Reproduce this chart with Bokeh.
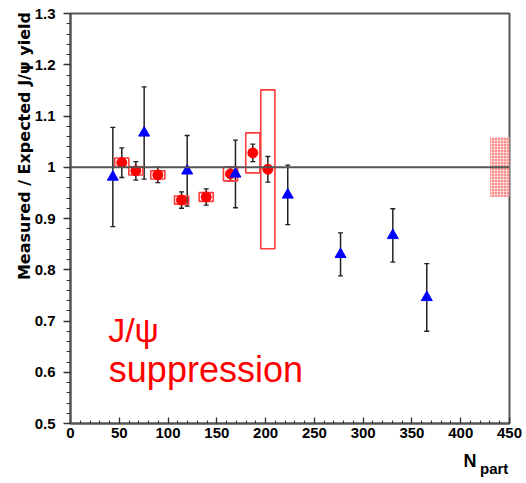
from bokeh.plotting import figure
from bokeh.models import (Range1d, FixedTicker, Whisker, TeeHead, ColumnDataSource,
                          Label, Span, LinearAxis)
from bokeh.embed import file_html
from bokeh.resources import INLINE

# ---- data ----
red_x = [52.6, 67.0, 89.5, 113.8, 139.1, 164.0, 186.9, 202.3]
red_y = [1.009, 0.993, 0.985, 0.936, 0.942, 0.987, 1.028, 0.996]
red_stat = [0.029, 0.018, 0.015, 0.016, 0.016, 0.014, 0.017, 0.025]
red_syst = [0.009, 0.008, 0.008, 0.008, 0.0085, 0.0135, 0.039, 0.155]
red_box_width = 14.5

blue_x = [43.4, 75.5, 119.6, 169.1, 222.7, 276.8, 330.4, 365.2]
blue_y = [0.981, 1.067, 0.993, 0.987, 0.946, 0.830, 0.867, 0.746]
blue_err = [0.097, 0.090, 0.069, 0.066, 0.058, 0.042, 0.052, 0.066]

global_unc_x = [430, 450]
global_unc = [0.058, 0.059]
reference_level = 1.0

x_ticks = [0, 50, 100, 150, 200, 250, 300, 350, 400, 450]
x_minor = list(range(0, 451, 10))
y_ticks = [0.5, 0.6, 0.7, 0.8, 0.9, 1.0, 1.1, 1.2, 1.3]
y_tick_labels = ["0.5", "0.6", "0.7", "0.8", "0.9", "1", "1.1", "1.2", "1.3"]
y_minor = [round(0.5 + 0.02 * i, 2) for i in range(41)]

y_title = "Measured / Expected J/\u03c8 yield"
x_title_main = "N"
x_title_sub = "part"
note_line1 = "J/\u03c8"
note_line2 = "suppression"

NBSP = "\u00a0"

# ---- figure ----
p = figure(width=526, height=483, output_backend="svg", toolbar_location=None,
           x_range=Range1d(0, 450), y_range=Range1d(0.5, 1.3))
p.min_border_left = 70
p.min_border_right = 17
p.min_border_top = 13
p.min_border_bottom = 60
p.xgrid.visible = False
p.ygrid.visible = False
p.outline_line_color = "#555555"
p.outline_line_width = 2
p.background_fill_color = "white"
p.border_fill_color = "white"

p.xaxis.ticker = FixedTicker(ticks=x_ticks, minor_ticks=x_minor)
p.yaxis.ticker = FixedTicker(ticks=y_ticks, minor_ticks=y_minor)
p.yaxis.major_label_overrides = {t: l for t, l in zip(y_ticks, y_tick_labels)}

for ax in (p.xaxis, p.yaxis):
    ax.axis_line_color = "#555555"
    ax.axis_line_width = 2
    ax.major_tick_line_color = "#333333"
    ax.minor_tick_line_color = "#333333"
    ax.major_tick_line_width = 1.3
    ax.minor_tick_line_width = 1.1
    ax.major_label_text_font = "Liberation Sans"
    ax.major_label_text_font_style = "bold"
    ax.major_label_text_font_size = "15px"
    ax.major_label_text_color = "black"
    ax.axis_label_text_color = "black"
    ax.axis_label_text_font_style = "bold"

p.xaxis.major_tick_in = 6
p.xaxis.major_tick_out = 0
p.xaxis.minor_tick_in = 3
p.xaxis.minor_tick_out = 0
p.xaxis.major_label_standoff = 4

p.yaxis.major_tick_in = 0
p.yaxis.major_tick_out = 7
p.yaxis.minor_tick_in = 0
p.yaxis.minor_tick_out = 4
p.yaxis.major_label_standoff = 8

# y title: centred by Bokeh, shifted to the top end with leading no-break spaces
p.yaxis.axis_label = NBSP * 26 + y_title
p.yaxis.axis_label_text_font = "DejaVu Sans"
p.yaxis.axis_label_text_font_size = "16px"
p.yaxis.axis_label_standoff = -2

# x title "N" with subscript "part" (second, bare axis carries the subscript)
p.xaxis.axis_label = NBSP * 72 + x_title_main
p.xaxis.axis_label_text_font = "Liberation Sans"
p.xaxis.axis_label_text_font_size = "18px"
p.xaxis.axis_label_standoff = 10

sub_axis = LinearAxis(ticker=FixedTicker(ticks=[]), axis_line_color=None,
                      major_tick_line_color=None, minor_tick_line_color=None,
                      major_tick_in=0, major_tick_out=0, minor_tick_in=0,
                      minor_tick_out=0, major_label_standoff=0,
                      axis_label=NBSP * 98 + x_title_sub,
                      axis_label_standoff=-14,
                      axis_label_text_font="Liberation Sans",
                      axis_label_text_font_style="bold",
                      axis_label_text_font_size="15px",
                      axis_label_text_color="black")
p.add_layout(sub_axis, "below")

# reference line at 1
p.add_layout(Span(location=reference_level, dimension="width", line_color="#555555",
                  line_width=2))

# global uncertainty (hatched box)
p.quad(left=[global_unc_x[0]], right=[global_unc_x[1]],
       bottom=[reference_level - global_unc[0]], top=[reference_level + global_unc[1]],
       fill_color="#ff8f8f", fill_alpha=1.0, line_color=None,
       hatch_pattern="cross", hatch_color="white", hatch_alpha=0.55,
       hatch_scale=3, hatch_weight=1)

# red systematic boxes
red_src = ColumnDataSource(dict(
    x=red_x, y=red_y,
    lo=[y - e for y, e in zip(red_y, red_stat)],
    hi=[y + e for y, e in zip(red_y, red_stat)],
    bl=[x - red_box_width / 2 for x in red_x],
    br=[x + red_box_width / 2 for x in red_x],
    bb=[y - s for y, s in zip(red_y, red_syst)],
    bt=[y + s for y, s in zip(red_y, red_syst)],
))
p.quad(left="bl", right="br", bottom="bb", top="bt", source=red_src,
       fill_color=None, line_color="#ff3b3b", line_width=1.6)

blue_src = ColumnDataSource(dict(
    x=blue_x, y=blue_y,
    lo=[y - e for y, e in zip(blue_y, blue_err)],
    hi=[y + e for y, e in zip(blue_y, blue_err)],
))

for src in (blue_src, red_src):
    w = Whisker(base="x", upper="hi", lower="lo", source=src, dimension="height",
                line_color="#222222", line_width=1.5,
                upper_head=TeeHead(size=5, line_color="#222222", line_width=1.3),
                lower_head=TeeHead(size=5, line_color="#222222", line_width=1.3))
    p.add_layout(w)

p.scatter("x", "y", source=red_src, marker="circle", size=10,
          fill_color="#ff0000", line_color="#ff0000")
p.scatter("x", "y", source=blue_src, marker="triangle", size=11,
          fill_color="#0000ff", line_color="#0000ff")

# annotation text
p.add_layout(Label(x=38.6, y=0.682, text=note_line1, text_align="left",
                   text_baseline="alphabetic", text_font="Liberation Sans",
                   text_font_size="34px", text_color="#ff0000"))
p.add_layout(Label(x=39.3, y=0.605, text=note_line2, text_align="left",
                   text_baseline="alphabetic", text_font="Liberation Sans",
                   text_font_size="36px", text_color="#ff0000"))

open("out.html", "w").write(file_html(p, INLINE))
